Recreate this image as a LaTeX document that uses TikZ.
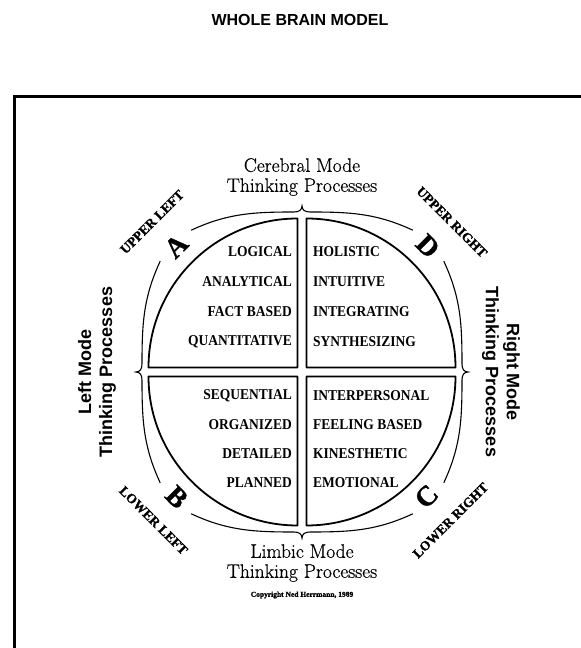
\documentclass[tikz,border=0pt]{standalone}
\usepackage{fontspec}
\usepackage{tikz}
\usetikzlibrary{calc}
\newfontfamily\headfont{Liberation Sans}
\newfontfamily\wordfont[FakeStretch=0.9]{Liberation Serif}
\newfontfamily\heavyfont[FakeBold=1.2]{Liberation Serif}
\newfontfamily\modefont[FakeBold=0.6]{Latin Modern Roman}

\begin{document}
\begin{tikzpicture}[
  x=1pt, y=1pt,
  frame/.style={line width=3pt, line cap=rect},
  quadrant/.style={draw, line width=1.8pt, line join=round},
  bracket/.style={line width=1.1pt},
  word/.style={font=\wordfont\bfseries\fontsize{15}{15}\selectfont, inner sep=0pt},
  wordL/.style={word, anchor=east},
  wordR/.style={word, anchor=west},
  mode/.style={align=center, inner sep=0pt, font=\modefont\fontsize{19.5}{20}\selectfont},
  side/.style={align=center, inner sep=0pt, font=\headfont\bfseries\fontsize{18}{21}\selectfont},
  letter/.style={inner sep=0pt, font=\heavyfont\bfseries\fontsize{28}{28}\selectfont},
  corner/.style={inner sep=0pt, font=\heavyfont\bfseries\fontsize{13.5}{14}\selectfont},
]
\useasboundingbox (0,0) rectangle (581,648);

% ---------- title and frame ----------
\node[inner sep=0pt, font=\headfont\bfseries\fontsize{16}{16}\selectfont] (title) at (300,628) {WHOLE BRAIN MODEL};
\draw[frame] (14,0) -- (14,551) -- (581,551);

% ---------- the four quadrants ----------
\coordinate (c) at (302,276);
\foreach \sx/\sy/\a in {-1/1/90, 1/1/0, 1/-1/270, -1/-1/180}
  \draw[quadrant] ($(c)+(\sx*4.5,\sy*4.5)$) -- ++(\a:149)
    arc[start angle=\a, delta angle=90, radius=149] -- cycle;

% ---------- brackets round the circle ----------
\foreach \rot in {0,90,180,270}{
  \begin{scope}[shift={(c)}, rotate=\rot]
    \draw[bracket] (141.8,110.8) .. controls +(16.9,-36.3) and +(0,40) .. (160,8)
      .. controls +(0,-5) and +(-4,0) .. (166,0)
      .. controls +(-4,0) and +(0,5) .. (160,-8)
      .. controls +(0,-40) and +(16.9,36.3) .. (141.8,-110.8);
  \end{scope}
}

% ---------- letters and corner labels ----------
\node[letter, rotate=45] (qa) at ($(c)+(135:178)$) {A};
\node[letter, rotate=-45] (qd) at ($(c)+(45:178)$) {D};
\node[letter, rotate=-45] (qb) at ($(c)+(225:177)$) {B};
\node[letter, rotate=45] (qc) at ($(c)+(315:176)$) {C};
\node[corner, rotate=45] (ul) at ($(c)+(135:212)$) {UPPER LEFT};
\node[corner, rotate=-45] (ur) at ($(c)+(45:212)$) {UPPER RIGHT};
\node[corner, rotate=-45] (ll) at ($(c)+(225:210)$) {LOWER LEFT};
\node[corner, rotate=45] (lr) at ($(c)+(315:210)$) {LOWER RIGHT};

% ---------- quadrant words ----------
\node[wordL] (logical) at (292,396) {LOGICAL};
\node[wordL] (analytical) at (292,366) {ANALYTICAL};
\node[wordL] (fact) at (292,336) {FACT BASED};
\node[wordL] (quant) at (292,306) {QUANTITATIVE};
\node[wordR] (holistic) at (313,396) {HOLISTIC};
\node[wordR] (intuitive) at (313,366) {INTUITIVE};
\node[wordR] (integr) at (313,336) {INTEGRATING};
\node[wordR] (synth) at (313,306) {SYNTHESIZING};
\node[wordL] (sequential) at (292,252) {SEQUENTIAL};
\node[wordL] (organized) at (292,223) {ORGANIZED};
\node[wordL] (detailed) at (292,194) {DETAILED};
\node[wordL] (planned) at (292,165) {PLANNED};
\node[wordR] (interpers) at (313,252) {INTERPERSONAL};
\node[wordR] (feeling) at (313,223) {FEELING BASED};
\node[wordR] (kinest) at (313,194) {KINESTHETIC};
\node[wordR] (emotional) at (313,165) {EMOTIONAL};

% ---------- mode labels ----------
\node[mode] (cerebral) at (302,471) {Cerebral Mode\\Thinking Processes};
\node[mode] (limbic) at (302,85) {Limbic Mode\\Thinking Processes};
\node[inner sep=0pt, font=\heavyfont\bfseries\fontsize{7.5}{7.5}\selectfont] (copy) at (302,53) {Copyright Ned Herrmann, 1989};
\node[side, rotate=90] (leftmode) at (97,276) {Left Mode\\Thinking Processes};
\node[side, rotate=-90] (rightmode) at (501,276) {Right Mode\\Thinking Processes};

\end{tikzpicture}
\end{document}
